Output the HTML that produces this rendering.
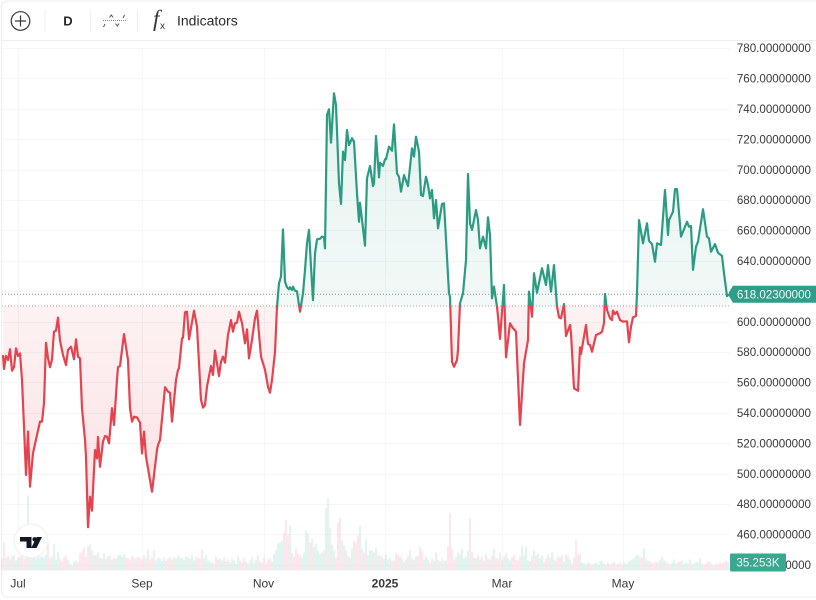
<!DOCTYPE html>
<html lang="en">
<head>
<meta charset="utf-8">
<title>Baseline price chart</title>
<style>
html,body{margin:0;padding:0;background:#fff;width:816px;height:600px;overflow:hidden}
svg{display:block;font-family:"Liberation Sans",sans-serif}
</style>
</head>
<body>
<svg id="chart" xmlns="http://www.w3.org/2000/svg" width="816" height="600" viewBox="0 0 816 600">
  <defs>
    <linearGradient id="greenFill" gradientUnits="userSpaceOnUse" x1="0" y1="93" x2="0" y2="306">
      <stop offset="0" stop-color="#2a9d82" stop-opacity="0.12"/>
      <stop offset="1" stop-color="#2a9d82" stop-opacity="0.06"/>
    </linearGradient>
    <linearGradient id="redFill" gradientUnits="userSpaceOnUse" x1="0" y1="306" x2="0" y2="527">
      <stop offset="0" stop-color="#e8434f" stop-opacity="0.07"/>
      <stop offset="1" stop-color="#e8434f" stop-opacity="0.16"/>
    </linearGradient>
    <clipPath id="aboveBase"><rect id="aboveRect" x="2" y="40" width="728" height="266"/></clipPath>
    <clipPath id="belowBase"><rect id="belowRect" x="2" y="306" width="728" height="264"/></clipPath>
  </defs>

  <rect x="1.5" y="1" width="820" height="596" rx="6" fill="#fff" stroke="#eeeeee"/>
  <line x1="2" y1="40.5" x2="816" y2="40.5" stroke="#eeeeee"/>

  <g>
    <circle cx="20.5" cy="21" r="9.3" fill="none" stroke="#3a3a3a" stroke-width="1.2"/>
    <path d="M20.5 15.5v11M15 21h11" stroke="#3a3a3a" stroke-width="1.2" fill="none"/>
  </g>
  <line x1="45" y1="10" x2="45" y2="32" stroke="#eeeeee"/>
  <text x="68" y="25.5" text-anchor="middle" font-size="13" font-weight="bold" fill="#2a2a2a">D</text>
  <line x1="90.5" y1="10" x2="90.5" y2="32" stroke="#eeeeee"/>
  <g fill="none" stroke="#555" stroke-width="1">
    <path d="M103 20.5h24" stroke-dasharray="1 1" stroke="#888"/>
    <path d="M109.5 17.5l1.8-2.5 1.8 2.5M115.5 23.5l1.8 2.5 1.8-2.5M103.5 27l1.5-3M123 18l1.5-3"/>
  </g>
  <line x1="137.5" y1="10" x2="137.5" y2="32" stroke="#eeeeee"/>
  <g>
    <text x="153" y="26" font-family="'Liberation Serif',serif" font-style="italic" font-size="23" fill="#333">f</text>
    <text x="160" y="29" font-size="10" fill="#333">x</text>
    <text x="177" y="25.5" font-size="14" fill="#2a2a2a">Indicators</text>
  </g>

  <g id="grid"></g>
  <g id="volume"></g>
  <g id="series"></g>
  <g id="priceAxis"></g>
  <g id="timeAxis"></g>

  <g>
    <circle cx="31" cy="541" r="16.8" fill="#fff" stroke="#eeeeee"/>
    <path d="M20 537h11.5v11h-5v-6.5h-6.5z" fill="#131722"/>
    <circle cx="34.6" cy="539.3" r="2.2" fill="#131722"/>
    <path d="M42 537l-5.5 11h-5.3l5.5-11z" fill="#131722"/>
  </g>
</svg>

<script>
/* Days since 1 Jul 2024 for each sampled close */
var days = [
-7.5,-7,-6,-5,-4,-3,-2,-1,0,1,
2,3,4,5,6,7.5,9.5,11,12,13,
14,15,16,17,18,19,20,21,22.5,24,
25,26.5,28,29,30,31,32,33.5,34,35,
36,37,38.5,39.5,40,41,42.5,43.5,44.5,45.5,
47,48,49.5,50,51,53,55,56,57,58,
59.5,61,62,63,64,65,67,69.5,70,71,
73.5,75,76,77,79,80,80.5,82,82.5,83.5,
84.5,85.5,88,89.5,90.5,91.5,92.5,93.5,94.5,96.5,
97.5,98.5,100.5,101.5,102.5,103.5,105,106.5,107.5,108.5,
109.5,110.5,112,113.5,114.5,115.5,117,118.5,119.5,121.5,
123.5,125,126,127,128.5,129.5,130.5,131.5,132.5,133.5,
134.5,135.5,136,137,137.5,138.5,139.5,141,142.5,143.5,
144.5,145.5,146.5,147.5,148.5,149.5,151,152,153,153.5,
154.5,155.5,156.5,158,159,160.5,161.5,162.5,163.5,164.5,
165.5,167,168,169.5,170.5,171,173.5,174.5,176,177.5,
178,179,180.5,181,182.5,183.5,184,185.5,187,188,
189.5,190.5,191.5,193,195,197,198,199,200.5,201.5,
202.5,204,205,206,207,208,209,210,212,213,
215.5,216,217,218,219.5,220,221,222.5,224,225,
226,227,229,230,231,232.5,234,235,236,237,
238,239.5,240,241,243,244,246,247.5,249,251,
253,255,255.5,257,258,259.5,262,264,265,266.5,
268,269.5,270.5,271.5,273,274,276,276.5,278,280,
281,281.5,284,285,286,287,289,291,292,293,
293.5,294.5,296,297,297.5,298.5,299.5,301,302.5,304.5,
305.5,306.5,307.5,309,309.5,310.5,312.5,314.5,315.5,317,
318.5,319.5,321.5,323.5,325,325.5,327.5,328.5,329.5,331.5,
334.5,335.5,336.5,337.5,339,340,342.5,344.5,345.5,346.5,
348.5,350,352,353,354.5,355.5
];
/* Close price at each of those days */
var closes = [
578,568.8,577.4,574.7,581.8,567.7,570,582.4,577.4,579.1,
561.6,530.8,499.1,527.6,491.4,513.5,525.4,534.2,534.2,546.2,
586.1,575.8,570,575.2,593.4,594,602.6,587.4,578,571.4,
581.3,583.5,575.2,588.3,576.9,575.8,543,522.1,511.1,464.7,
484.8,475.6,515.5,510,524.1,504.5,521,524.7,524.3,519.9,
543,532,561.6,570,570.8,591.8,574.7,543,534.2,537.4,
537,533.5,513.3,527.6,511.1,503.5,488.1,515.5,518.8,522.1,
556.8,553.9,553.2,534.2,561.6,568.2,569.3,589,589.4,606.1,
606.5,588.3,607.2,596.7,572.6,548.4,543.4,545.1,557.2,570.8,
564.9,580.9,564.2,573.6,576.9,573,591.2,601,593.4,598.9,
599.3,606.5,598.9,585.7,594.9,575.8,587.9,602.2,607.2,576.9,
568.2,557.2,553.2,561.6,580,609.8,625.2,629.6,660.7,626.3,
622.6,621.2,622.6,620.8,623,620.3,619.9,606.5,618.6,634,
651.5,660.3,636.1,614.2,644.9,654.1,654.5,655.9,655.5,648.2,
735.9,739.7,717.7,750.2,742.5,691,677.4,711.8,706.3,726.1,
716.2,720.6,718.4,684.4,665.7,678.2,650,694.3,702.4,689.2,
691,722.1,694.9,704.5,702.4,706.8,706.8,715.1,712.4,729.8,
697.6,695.3,685.5,696.4,689.2,714,708.5,721.6,711.8,683.3,
682.6,695.3,689.9,681.1,686.6,668,680,661.4,677.4,677.8,
618.6,616.4,573.6,570.3,574.7,581.3,612,618.6,640.5,697.1,
664.7,660.3,673.4,666.8,648.2,655.9,648.2,668.6,657,615.3,
623,609.8,603.2,588.6,624.1,576.5,598.9,595.6,593.4,532,
572.6,587.9,619.7,603.2,631.8,619,635.1,624.1,637.2,619.7,
637.2,609.8,602.8,602.2,611.6,590.5,597.8,592.3,556.1,554.5,
583.1,578.7,597.8,585.3,584.6,580.2,591.2,592.3,593.4,598.9,
618.2,607.6,602.2,601,607.2,605,606.5,601,600,600.2,
586.4,596.7,602.8,603.7,618.6,666.8,651.5,664.7,653.2,651,
639.4,651.5,650.4,686.6,657,666.8,672.3,687.2,687.2,655.9,
665.7,662.4,662.9,634,649.3,652.6,673.9,655.9,654.8,646,
651,645.3,643.2,631.8,616.8,618.023
];
/* Daily volume in thousands, first bar is day -8 */
var volumeStartDay = -8;
var volumes = [
48,112,52,60,44,56,60,40,52,56,60,48,56,300,64,52,60,48,56,52,
56,52,64,112,48,56,104,44,72,48,36,52,60,44,28,20,36,40,36,68,
76,92,56,96,104,80,60,64,72,52,48,68,48,56,60,44,52,48,60,64,
56,64,52,48,44,60,52,48,56,52,44,60,48,84,44,52,80,40,52,48,
36,52,40,48,56,44,52,48,60,52,48,44,56,52,48,60,40,56,52,48,
84,48,60,40,36,32,28,56,44,48,40,52,36,44,32,48,40,28,56,40,
32,48,36,28,40,56,32,44,60,36,32,52,28,44,48,36,64,80,108,112,
120,152,200,144,180,72,56,88,68,60,52,72,160,148,112,128,96,108,80,64,
72,80,248,288,172,104,80,52,192,208,120,100,80,60,52,88,120,112,140,180,
88,72,124,60,80,80,72,88,60,60,56,48,64,44,52,36,40,68,64,56,
48,36,44,56,80,48,44,56,60,96,80,44,56,44,32,48,40,72,44,36,
48,36,40,96,228,88,44,56,72,64,88,48,56,80,208,76,52,48,60,44,
56,40,64,48,44,60,88,52,48,72,44,56,68,48,40,52,64,44,40,56,
100,60,96,40,36,56,80,60,68,48,60,32,48,64,52,72,44,40,56,52,
60,36,64,56,44,28,52,120,64,68,32,28,24,32,28,24,28,32,24,36,
40,28,24,32,24,28,36,24,28,32,24,36,28,32,40,44,48,60,64,56,
52,88,48,40,36,32,28,36,32,40,56,40,36,28,24,32,44,28,32,36,
40,28,32,28,44,24,28,36,32,48,28,24,28,36,32,24,20,28,24,32,
28,36,40,35.253
];
/* Axis labels */
var priceTicks = [780,760,740,720,700,680,660,640,620,600,580,560,540,520,500,480,460,440];
var timeLabels = ["Jul","Sep","Nov","2025","Mar","May"];
var timeTickDays = [0,62,122.75,183.5,242,302.5];
var baselinePrice = 610.3;
var lastPrice = 618.023;
var lastVolume = "35.253K";

var NS = "http://www.w3.org/2000/svg";
function xOf(day){ return 18 + 2 * day; }
function yOf(price){ return 48 + (780 - price) * 1.52; }
function volY(v){ return 570.5 - v * 0.25; }
function el(tag, attrs, parent){
  var e = document.createElementNS(NS, tag);
  for (var k in attrs) e.setAttribute(k, attrs[k]);
  parent.appendChild(e);
  return e;
}
var grid = document.getElementById("grid");
var volG = document.getElementById("volume");
var seriesG = document.getElementById("series");
var priceAxis = document.getElementById("priceAxis");
var timeAxis = document.getElementById("timeAxis");

/* grid */
priceTicks.forEach(function(p){
  var y = Math.round(yOf(p)) + 0.5;
  var l = el("line", {x1:2, x2:730, y1:y, y2:y, stroke:"#f6f6f6"}, grid);
  
  
});
timeTickDays.forEach(function(d){
  var x = Math.round(xOf(d)) + 0.5;
  var l = el("line", {x1:x, x2:x, y1:48, y2:570, stroke:"#f6f6f6"}, grid);
  
  
});

/* volume bars, coloured by the direction of the price path that day */
function isDown(day){
  for (var i = 1; i < days.length; i++) {
    if (days[i] >= day) return closes[i] < closes[i - 1];
  }
  return false;
}
volumes.forEach(function(v, i){
  var d = volumeStartDay + i;
  var top = volY(v);
  var b = el("rect", {x:xOf(d) - 0.5, y:top, width:1, height:volY(0) - top,
    fill:isDown(d) ? "#f8d2d8" : "#c6e8e0"}, volG);
  
  
});

/* baseline price series */
var baseY = yOf(baselinePrice);
document.getElementById("aboveRect").setAttribute("height", baseY - 40);
document.getElementById("belowRect").setAttribute("y", baseY);
document.getElementById("belowRect").setAttribute("height", 570 - baseY);

var pts = days.map(function(d, i){ return xOf(d).toFixed(2) + " " + yOf(closes[i]).toFixed(2); });
var linePath = "M" + pts.join("L");
var areaPath = linePath + "L" + xOf(days[days.length - 1]).toFixed(2) + " " + baseY + "L" + xOf(days[0]).toFixed(2) + " " + baseY + "Z";

var greenArea = el("path", {d:areaPath, fill:"url(#greenFill)", "clip-path":"url(#aboveBase)"}, seriesG);


var redArea = el("path", {d:areaPath, fill:"url(#redFill)", "clip-path":"url(#belowBase)"}, seriesG);



var baseLine = el("line", {x1:2, x2:730, y1:baseY, y2:baseY, stroke:"#b5a3a5", "stroke-width":1, "stroke-dasharray":"1 2"}, seriesG);


var lastLineY = yOf(lastPrice);
var lastLine = el("line", {x1:2, x2:730, y1:lastLineY, y2:lastLineY, stroke:"#6f9f94", "stroke-width":1, "stroke-dasharray":"1 2"}, seriesG);



var greenLine = el("path", {d:linePath, fill:"none", stroke:"#2b9c82", "stroke-width":2.2, "stroke-linejoin":"round", "clip-path":"url(#aboveBase)"}, seriesG);


var redLine = el("path", {d:linePath, fill:"none", stroke:"#e5434f", "stroke-width":2.2, "stroke-linejoin":"round", "clip-path":"url(#belowBase)"}, seriesG);



/* price axis */
priceTicks.forEach(function(p){
  var t = el("text", {x:811, y:yOf(p) + 4.2, "text-anchor":"end", "font-size":"11.6", fill:"#3a3a3a"}, priceAxis);
  
  
  t.textContent = p.toFixed(8);
});
var ly = lastLineY;
var lastBox = el("path", {d:"M729 " + (ly - 2) + "L733 " + (ly - 8.5) + "H816V" + (ly + 8.5) + "H733L729 " + (ly + 2) + "Z", fill:"#2f9e88"}, priceAxis);


var lastText = el("text", {x:811, y:ly + 4.2, "text-anchor":"end", "font-size":"11.6", fill:"#f2fbf8"}, priceAxis);


lastText.textContent = lastPrice.toFixed(8);

var volBox = el("rect", {x:730, y:553.5, width:56, height:18, rx:1.5, fill:"#3aa78f"}, priceAxis);


var volText = el("text", {x:758, y:566.7, "text-anchor":"middle", "font-size":"11.6", fill:"#e9f7f3"}, priceAxis);


volText.textContent = lastVolume;

/* time axis */
timeLabels.forEach(function(lbl, i){
  var bold = lbl === "2025";
  var t = el("text", {x:xOf(timeTickDays[i]), y:587.5, "text-anchor":"middle", "font-size":"12", "font-weight":bold ? "bold" : "normal", fill:"#3a3a3a"}, timeAxis);
  
  
  t.textContent = lbl;
});
</script>
</body>
</html>
